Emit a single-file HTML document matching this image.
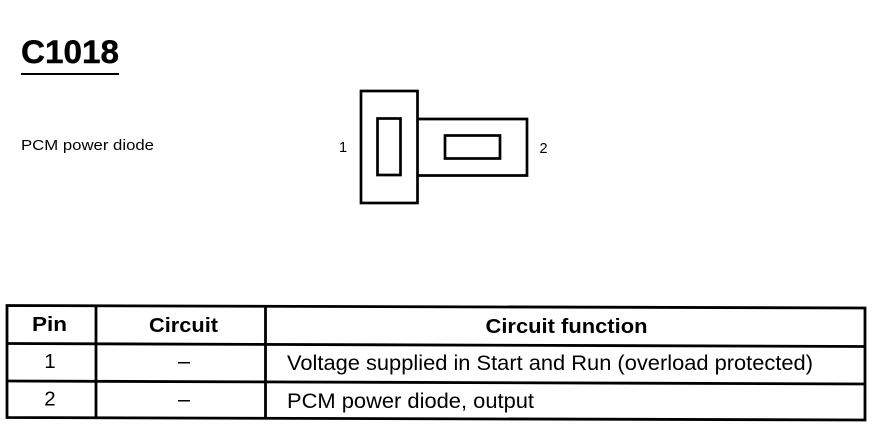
<!DOCTYPE html>
<html>
<head>
<meta charset="utf-8">
<style>
html,body{margin:0;padding:0;background:#fff;width:872px;height:432px;overflow:hidden}
svg{display:block}
text{font-family:"Liberation Sans",sans-serif;fill:#000}
</style>
</head>
<body>
<svg width="872" height="432" viewBox="0 0 872 432" xmlns="http://www.w3.org/2000/svg">
<text x="21" y="63" font-size="32" font-weight="bold" stroke="#000" stroke-width="0.4" textLength="98" lengthAdjust="spacingAndGlyphs">C1018</text>
<rect x="21" y="73" width="98" height="2" fill="#000"/>
<text x="21" y="150" font-size="15" textLength="133" lengthAdjust="spacingAndGlyphs">PCM power diode</text>

<g fill="none" stroke="#000" stroke-width="2.700">
<rect x="361" y="91" width="56.500" height="112"/>
<path d="M418 119H527V175.500H418"/>
<rect x="377.500" y="118.500" width="23" height="56.500"/>
<rect x="445" y="135.500" width="55" height="23"/>
</g>
<text x="339" y="152" font-size="14.500">1</text>
<text x="539.500" y="153" font-size="14.500">2</text>

<g fill="none" stroke="#000" stroke-width="2.800">
<path d="M7 305.500L865 308V420L7 417.500Z"/>
<path d="M7 343.500L865 346.500"/>
<path d="M7 381L865 384"/>
<path d="M96 305.500V418"/>
<path d="M265.500 306V419"/>
</g>

<text x="49.500" y="331" font-size="20" font-weight="bold" text-anchor="middle" textLength="35" lengthAdjust="spacingAndGlyphs">Pin</text>
<text x="183.500" y="332" font-size="20" font-weight="bold" text-anchor="middle" textLength="69" lengthAdjust="spacingAndGlyphs">Circuit</text>
<text x="566.500" y="333" font-size="20.500" font-weight="bold" text-anchor="middle" textLength="162" lengthAdjust="spacingAndGlyphs">Circuit function</text>

<text x="50" y="368" font-size="20.500" text-anchor="middle">1</text>
<text x="50" y="405.500" font-size="20.500" text-anchor="middle">2</text>
<rect x="178" y="362" width="12" height="1.500" fill="#000"/>
<rect x="178" y="400" width="12" height="1.500" fill="#000"/>

<text x="287" y="370" font-size="21" textLength="526" lengthAdjust="spacingAndGlyphs">Voltage supplied in Start and Run (overload protected)</text>
<text x="287" y="408" font-size="21" textLength="247" lengthAdjust="spacingAndGlyphs">PCM power diode, output</text>
</svg>
</body>
</html>
